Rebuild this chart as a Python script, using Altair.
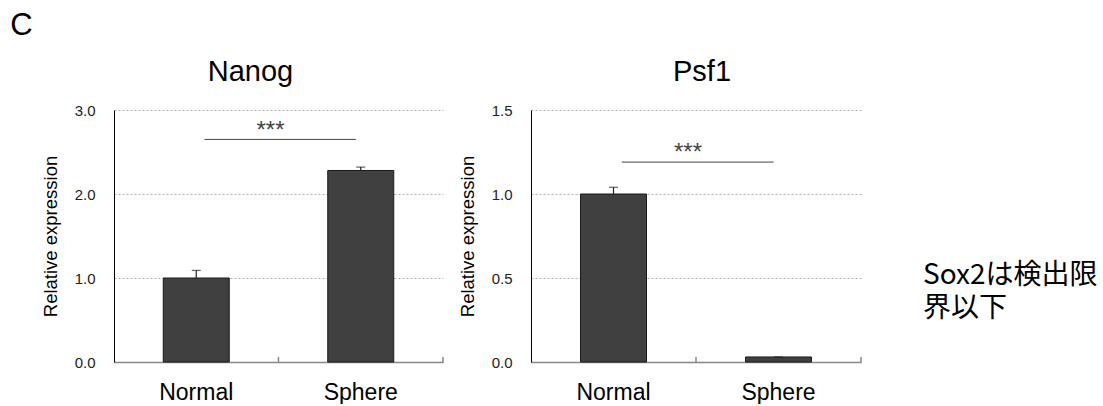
import altair as alt
import pandas as pd

groups = ["Normal", "Sphere"]
nanog_means = [1.00, 2.28]
nanog_errs = [0.09, 0.04]
psf1_means = [1.00, 0.03]
psf1_errs = [0.04, 0.0]
nanog_ticks = [0.0, 1.0, 2.0, 3.0]
psf1_ticks = [0.0, 0.5, 1.0, 1.5]
sig_levels = [2.65, 1.19]
star_levels = [2.80, 1.27]
note_lines = ["Sox2は検出限", "界以下"]

FONT = "Liberation Sans, Arial, sans-serif"


def panel(name, means, errs, ticks, sig_y, star_y, title_dx, width):
    height = 252
    df = pd.DataFrame({
        "group": groups,
        "mean": means,
        "upper": [m + e for m, e in zip(means, errs)],
    })
    x = alt.X(
        "group:N", sort=groups,
        scale=alt.Scale(paddingInner=0, paddingOuter=0),
        axis=alt.Axis(title=None, labelAngle=0, labelFontSize=23, labelFont=FONT,
                      labelColor="#000", labelPadding=19, ticks=False,
                      domainColor="#888", domainWidth=1.5),
    )
    y = alt.Y(
        "mean:Q",
        scale=alt.Scale(domain=[ticks[0], ticks[-1]], nice=False),
        axis=alt.Axis(values=ticks, format=".1f", title="Relative expression",
                      grid=True, gridDash=[2, 2], gridColor="#b0b0b0",
                      domainColor="#000", ticks=False, labelFontSize=15,
                      labelFont=FONT, labelColor="#222", labelPadding=19,
                      titleFont=FONT, titleFontSize=18.5, titleFontWeight="normal",
                      titleColor="#000", titlePadding=14),
    )
    base = alt.Chart(df)
    bars = base.mark_bar(size=66, color="#404040", stroke="#1a1a1a", strokeWidth=1).encode(x=x, y=y)
    err = base.mark_rule(color="#222", strokeWidth=1.2).encode(x=x, y=y, y2="upper:Q")
    cap = base.mark_tick(size=9, thickness=1.2, color="#222").encode(x=x, y="upper:Q")

    tick_len = (ticks[-1] - ticks[0]) * 5 / height
    tick_df = pd.DataFrame({"g": [groups[1]], "y0": [ticks[0]], "y1": [ticks[0] + tick_len]})
    xt0 = alt.Chart(tick_df).mark_rule(color="#888", strokeWidth=1.5).encode(
        x=alt.X("g:N", sort=groups, bandPosition=0), y="y0:Q", y2="y1:Q")
    xt1 = alt.Chart(tick_df).mark_rule(color="#888", strokeWidth=1.5).encode(
        x=alt.X("g:N", sort=groups, bandPosition=1), y="y0:Q", y2="y1:Q")

    sig_df = pd.DataFrame({"a": [groups[0]], "b": [groups[1]], "y": [sig_y], "ys": [star_y], "t": ["***"]})
    sig = alt.Chart(sig_df).mark_rule(color="#444", strokeWidth=1).encode(
        x=alt.X("a:N", sort=groups, bandPosition=0.55),
        x2=alt.X2("b:N", bandPosition=0.47), y="y:Q")
    stars = alt.Chart(sig_df).mark_text(fontSize=24, font=FONT, color="#444", dx=-8,
                                        baseline="middle", dy=4).encode(
        x=alt.X("a:N", sort=groups, bandPosition=1), y="ys:Q", text="t:N")
    return alt.layer(bars, err, cap, xt0, xt1, sig, stars).properties(
        width=width, height=height,
        title=alt.TitleParams(name, fontSize=29, font=FONT, fontWeight="normal",
                              color="#000", frame="group", dx=title_dx, offset=16),
    )


p1 = panel("Nanog", nanog_means, nanog_errs, nanog_ticks, sig_levels[0], star_levels[0], -28, 329)
p2 = panel("Psf1", psf1_means, psf1_errs, psf1_ticks, sig_levels[1], star_levels[1], 6, 330)

note = alt.Chart(pd.DataFrame({"k": [0]})).mark_text(
    align="left", baseline="top", fontSize=28, font="Noto Sans CJK JP",
    lineHeight=33, color="#000").encode(
    text=alt.value(note_lines), x=alt.value(47), y=alt.value(152)
).properties(width=190, height=252)

chart = alt.hconcat(p1, p2, note, spacing=14).properties(
    title=alt.TitleParams("C", fontSize=31, font=FONT, fontWeight="normal",
                          anchor="start", color="#000", offset=16, dx=-31),
    padding={"left": 10, "top": 10, "right": 0, "bottom": 0},
).configure_view(stroke=None)

chart.save("out.html", embed_options={"renderer": "svg", "actions": False})
